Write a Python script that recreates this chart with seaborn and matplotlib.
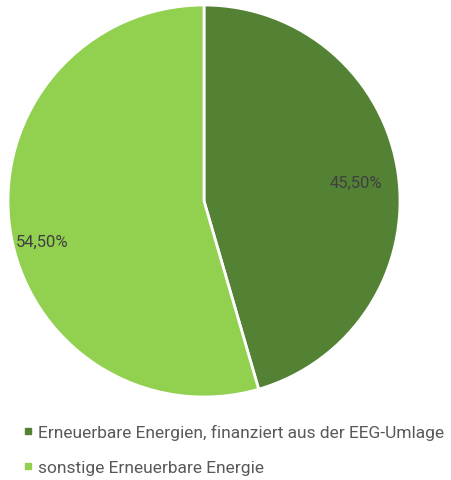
import matplotlib
matplotlib.use("Agg")
import matplotlib.pyplot as plt
import seaborn as sns
import numpy as np
from matplotlib.lines import Line2D

sns.set_theme(style="white")
plt.rcParams['font.family'] = ['Roboto', 'DejaVu Sans']

categories = ["Erneuerbare Energien, finanziert aus der EEG-Umlage",
              "sonstige Erneuerbare Energie"]
values = [45.5, 54.5]
labels = ["45,50%", "54,50%"]
colors = ["#548235", "#92D050"]

fig = plt.figure(figsize=(4.52, 4.81), dpi=100)
ax = fig.add_axes([8/452, (481-398)/481, 392/452, 392/481])
wedges, _ = ax.pie(values, colors=colors, startangle=90, counterclock=False,
                   wedgeprops=dict(edgecolor="white", linewidth=2))
label_shift = [(-1.0, 0.78), (6.0, 0.85)]  # (angle shift in degrees, radius)
for w, lab, (da, r) in zip(wedges, labels, label_shift):
    ang = np.deg2rad((w.theta1 + w.theta2) / 2 + da)
    ax.text(r*np.cos(ang), r*np.sin(ang), lab, ha="center", va="center",
            fontsize=12, color="#404040")
ax.set_xlim(-1, 1)
ax.set_ylim(-1, 1)
ax.set_aspect("equal")
ax.axis("off")

handles = [Line2D([0], [0], marker="s", linestyle="none", markersize=5,
                  markerfacecolor=c, markeredgecolor=c) for c in colors]
fig.legend(handles, categories, loc="upper left", bbox_to_anchor=(14/452, 1-418/481),
           frameon=False, fontsize=12.5, labelcolor="#595959", handletextpad=0.2,
           labelspacing=1.15, handlelength=0.8, borderaxespad=0)
fig.savefig("out.png", dpi=100)
